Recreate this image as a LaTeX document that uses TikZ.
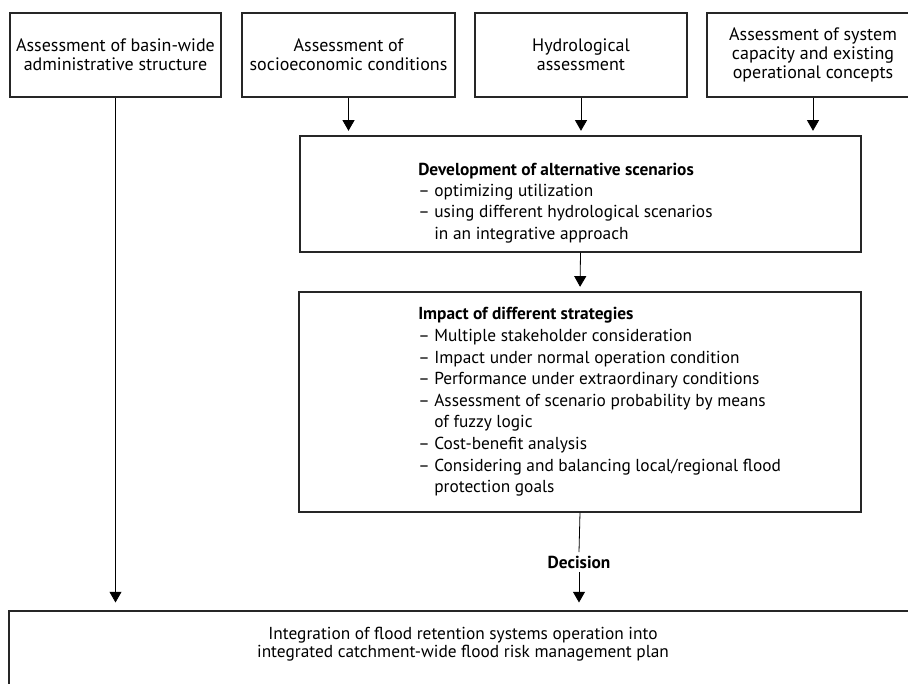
\documentclass[tikz,border=0pt]{standalone}
\usepackage{fontspec}
\setmainfont{PT Sans}
\usepackage{tikz}
\usetikzlibrary{arrows.meta}

\begin{document}
\begin{tikzpicture}[x=0.75pt,y=-0.75pt,>={Triangle[length=8pt,width=9pt]},
  frame/.style={draw=black!85,line width=0.8pt,inner sep=0pt},
  box/.style={frame,align=center,font=\fontsize{13.5}{14.5}\selectfont},
  listtext/.style={align=left,inner sep=0pt,font=\fontsize{13}{16}\selectfont},
  flow/.style={->,line width=0.6pt,shorten >=3.5pt}]
  \useasboundingbox (0,0) rectangle (908,683);
  % assessment boxes along the top
  \node[box,minimum width=158.25pt,minimum height=63pt] (basin) at (115.5,55) {Assessment of basin-wide\\administrative structure};
  \node[box,minimum width=159.75pt,minimum height=63pt] (socio) at (348.5,55) {Assessment of\\socioeconomic conditions};
  \node[box,minimum width=159pt,minimum height=63pt] (hydro) at (581,55) {Hydrological\\assessment};
  \node[box,minimum width=159pt,minimum height=63pt] (capac) at (813,55) {Assessment of system\\capacity and existing\\operational concepts};
  % scenario box
  \node[frame,minimum width=420.75pt,minimum height=87pt] (scen) at (580.5,194) {};
  \node[listtext,anchor=west] (scenlist) at (418,203) {\textbf{Development of alternative scenarios}\\
    – optimizing utilization\\
    – using different hydrological scenarios\\
    \phantom{– }in an integrative approach};
  % strategy box
  \node[frame,minimum width=421.5pt,minimum height=165pt] (impact) at (580,402) {};
  \node[listtext,anchor=west,font=\fontsize{13}{16.2}\selectfont] (impactlist) at (418,402) {\textbf{Impact of different strategies}\\
    – Multiple stakeholder consideration\\
    – Impact under normal operation condition\\
    – Performance under extraordinary conditions\\
    – Assessment of scenario probability by means\\
    \phantom{– }of fuzzy logic\\
    – Cost-benefit analysis\\
    – Considering and balancing local/regional flood\\
    \phantom{– }protection goals};
  \node[font=\fontsize{13}{15.5}\selectfont\bfseries,inner sep=2.5pt] (dec) at (579,562) {Decision};
  % final plan
  \node[frame,minimum width=681pt,minimum height=58.5pt] (plan) at (463,650) {};
  \node[align=center,inner sep=0pt,font=\fontsize{13}{14}\selectfont] (plantext) at (463,644) {Integration of flood retention systems operation into\\integrated catchment-wide flood risk management plan};
  % connectors
  \draw[flow] (socio.south) -- (socio.south |- scen.north);
  \draw[flow] (hydro.south) -- (hydro.south |- scen.north);
  \draw[flow] (capac.south) -- (capac.south |- scen.north);
  \draw[flow] (scen.south) -- (impact.north);
  \draw[line width=0.6pt] (impact.south) -- (dec.north);
  \draw[flow,shorten >=6pt] (dec.south) -- (dec.south |- plan.north);
  \draw[flow,shorten >=6pt] (basin.south) -- (basin.south |- plan.north);
\end{tikzpicture}
\end{document}
